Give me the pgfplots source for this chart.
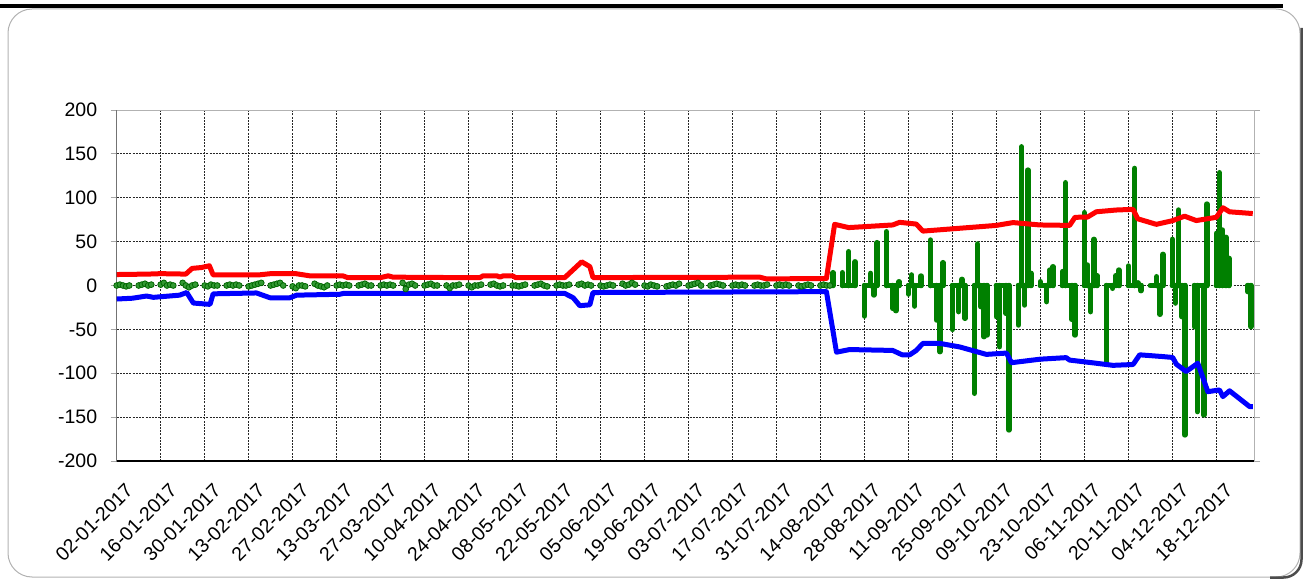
\documentclass[border=0pt]{standalone}
\usepackage{fontspec}
\setmainfont{Liberation Sans}
\usepackage{pgfplots}
\pgfplotsset{compat=1.18}
\definecolor{cred}{RGB}{255,0,0}
\definecolor{cblue}{RGB}{0,0,255}
\definecolor{cgreen}{RGB}{0,128,0}
\begin{document}
\begin{tikzpicture}[x=1pt,y=1pt]
\path[use as bounding box] (0,0) rectangle (1304,579);
\draw[gray!60, line width=1pt, rounded corners=24pt] (8,2) rectangle (1300,570);
\draw[black, line width=4pt] (0,573) -- (1283,573);
\draw[black!70, line width=2.5pt, rounded corners=18pt] (1301.5,551) -- (1301.5,1.5) -- (1270,1.5);
\begin{axis}[
  at={(116.7pt,118pt)}, anchor=south west,
  scale only axis, width=1137.3pt, height=351pt,
  xmin=0, xmax=362, ymin=-200, ymax=200,
  xtick={0,14,...,350},
  xticklabels={02-01-2017,16-01-2017,30-01-2017,13-02-2017,27-02-2017,13-03-2017,27-03-2017,10-04-2017,24-04-2017,08-05-2017,22-05-2017,05-06-2017,19-06-2017,03-07-2017,17-07-2017,31-07-2017,14-08-2017,28-08-2017,11-09-2017,25-09-2017,09-10-2017,23-10-2017,06-11-2017,20-11-2017,04-12-2017,18-12-2017},
  ytick={-200,-150,-100,-50,0,50,100,150,200},
  yticklabels={-200,-150,-100,-50,0,50,100,150,200},
  ticklabel style={font=\fontsize{19.5}{23}\selectfont, text=black},
  xticklabel style={rotate=45, anchor=north east, inner sep=1pt, xshift=-4pt, yshift=-15pt},
  yticklabel style={xshift=-10pt},
  grid=major,
  major grid style={black!85, line width=0.8pt, dash pattern=on 2pt off 1.2pt},
  axis line style={gray!60, line width=1pt},
  xtick style={draw=none},
  ytick style={gray!70, line width=1pt},
  tick align=outside, major tick length=6pt,
  clip=true,
]
% green, first part (weekdays, small values)
\addplot[cgreen, line width=2.5pt, unbounded coords=jump, mark=*, mark size=2.9pt,
  mark options={fill=cgreen!80!white, draw=cgreen!80!black, line width=0.8pt}]
  table[row sep=\\] {
d v \\
0 0 \\ 1 1 \\ 2 0 \\ 3 -1 \\ 4 0 \\ 5 nan \\
7 0 \\ 8 1 \\ 9 2 \\ 10 0 \\ 11 1 \\ 12 nan \\
14 1 \\ 15 3 \\ 16 0 \\ 17 1 \\ 18 0 \\ 19 nan \\
21 3 \\ 22 0 \\ 23 -2 \\ 24 0 \\ 25 1 \\ 26 nan \\
28 0 \\ 29 -1 \\ 30 1 \\ 31 0 \\ 32 0 \\ 33 nan \\
35 0 \\ 36 1 \\ 37 0 \\ 38 1 \\ 39 0 \\ 40 nan \\
42 -1 \\ 43 0 \\ 44 1 \\ 45 2 \\ 46 3 \\ 47 nan \\
49 0 \\ 50 1 \\ 51 2 \\ 52 3 \\ 53 0 \\ 54 nan \\
56 -1 \\ 57 -3 \\ 58 0 \\ 59 0 \\ 60 -1 \\ 61 nan \\
63 2 \\ 64 0 \\ 65 -1 \\ 66 -2 \\ 67 0 \\ 68 nan \\
70 0 \\ 71 1 \\ 72 0 \\ 73 1 \\ 74 0 \\ 75 nan \\
77 0 \\ 78 1 \\ 79 2 \\ 80 0 \\ 81 0 \\ 82 nan \\
84 0 \\ 85 1 \\ 86 0 \\ 87 1 \\ 88 0 \\ 89 nan \\
91 3 \\ 92 -4 \\ 93 1 \\ 94 2 \\ 95 0 \\ 96 nan \\
98 0 \\ 99 1 \\ 100 2 \\ 101 0 \\ 102 0 \\ 103 nan \\
105 0 \\ 106 -3 \\ 107 0 \\ 108 0 \\ 109 1 \\ 110 nan \\
112 0 \\ 113 -2 \\ 114 0 \\ 115 0 \\ 116 1 \\ 117 nan \\
119 1 \\ 120 2 \\ 121 0 \\ 122 -1 \\ 123 0 \\ 124 nan \\
126 0 \\ 127 0 \\ 128 -1 \\ 129 0 \\ 130 1 \\ 131 nan \\
133 0 \\ 134 1 \\ 135 2 \\ 136 0 \\ 137 -1 \\ 138 nan \\
140 0 \\ 141 1 \\ 142 0 \\ 143 0 \\ 144 1 \\ 145 nan \\
147 1 \\ 148 2 \\ 149 0 \\ 150 1 \\ 151 0 \\ 152 nan \\
154 0 \\ 155 -1 \\ 156 0 \\ 157 1 \\ 158 0 \\ 159 nan \\
161 2 \\ 162 0 \\ 163 1 \\ 164 3 \\ 165 1 \\ 166 nan \\
168 0 \\ 169 -1 \\ 170 1 \\ 171 0 \\ 172 -1 \\ 173 nan \\
175 -1 \\ 176 0 \\ 177 1 \\ 178 0 \\ 179 2 \\ 180 nan \\
182 0 \\ 183 1 \\ 184 2 \\ 185 3 \\ 186 0 \\ 187 nan \\
189 0 \\ 190 1 \\ 191 2 \\ 192 1 \\ 193 0 \\ 194 nan \\
196 0 \\ 197 1 \\ 198 0 \\ 199 1 \\ 200 0 \\ 201 nan \\
203 0 \\ 204 1 \\ 205 0 \\ 206 0 \\ 207 1 \\ 208 nan \\
210 0 \\ 211 1 \\ 212 0 \\ 213 1 \\ 214 0 \\ 215 nan \\
217 0 \\ 218 -1 \\ 219 0 \\ 220 1 \\ 221 0 \\ 222 nan \\
224 0 \\ 225 1 \\ 226 0 \\ 227 0 \\
};
% green, second part: zero baseline on weekdays
\addplot[cgreen, line width=5.5pt, unbounded coords=jump, line cap=round]
  table[row sep=\\] {
d v \\
231 0 \\ 235 0 \\ 236 nan \\ 238 0 \\ 242 0 \\ 243 nan \\
245 0 \\ 249 0 \\ 250 nan \\ 252 0 \\ 256 0 \\ 257 nan \\
259 0 \\ 263 0 \\ 264 nan \\ 266 0 \\ 270 0 \\ 271 nan \\
273 0 \\ 277 0 \\ 278 nan \\ 280 0 \\ 284 0 \\ 285 nan \\
287 0 \\ 291 0 \\ 292 nan \\ 294 0 \\ 298 0 \\ 299 nan \\
301 0 \\ 305 0 \\ 306 nan \\ 308 0 \\ 312 0 \\ 313 nan \\
315 0 \\ 319 0 \\ 320 nan \\ 322 0 \\ 326 0 \\ 327 nan \\
329 0 \\ 333 0 \\ 334 nan \\ 336 0 \\ 340 0 \\ 341 nan \\
343 0 \\ 347 0 \\ 348 nan \\ 350 0 \\ 354 0 \\ 355 nan \\
360 0 \\ 361 0 \\
};
% green, second part: daily spikes
\addplot[cgreen, ycomb, line width=5.5pt, line cap=round]
  table[row sep=\\] {
d v \\
228 14.6 \\ 231 14.6 \\ 233 38.5 \\ 235 27 \\ 238 -34.8 \\ 240 13.8 \\ 241 -10.8 \\ 242 48.8 \\
245 61.3 \\ 247 -26 \\ 248 -28.7 \\ 249 4.3 \\ 252 -9.7 \\ 253 12 \\ 254 -23.4 \\ 256 10.8 \\
259 51.8 \\ 261 -39.3 \\ 262 -75.4 \\ 263 26 \\ 266 -50 \\ 268 -29.8 \\ 269 7 \\ 270 -37.4 \\
273 -122.8 \\ 274 47.3 \\ 275 -24 \\ 276 -58.3 \\ 277 -56.4 \\ 280 -35.5 \\ 281 -69.7 \\ 283 -31.7 \\ 284 -164.6 \\
287 -45 \\ 288 158 \\ 289 -22.2 \\ 290 131.5 \\ 291 13.9 \\ 294 4.3 \\ 296 -18.4 \\ 297 17.6 \\ 298 21.4 \\
301 15.8 \\ 302 117.1 \\ 304 -38.6 \\ 305 -56.4 \\ 308 83 \\ 309 23.3 \\ 310 -29.8 \\ 311 52.6 \\ 312 11.2 \\
315 -87.9 \\ 317 -3.2 \\ 318 11.2 \\ 319 17.6 \\ 322 22.2 \\ 324 133.4 \\ 325 3 \\ 326 -5.9 \\
331 10 \\ 332 -32.8 \\ 333 35.5 \\ 336 52.6 \\ 337 -20 \\ 338 86 \\ 339 -35.5 \\ 340 -170.3 \\
343 -46.9 \\ 344 -143.7 \\ 346 -147.5 \\ 347 92.8 \\ 350 59.4 \\ 351 128.5 \\ 352 63.2 \\ 353 54.9 \\ 354 30.9 \\
360 -7 \\ 361 -46.9 \\
};
% red upper line
\addplot[cred, line width=5pt, line join=round] table[row sep=\\] {
d v \\
0 12.5 \\ 10 13 \\ 14 13.5 \\ 22 13 \\ 24 19.5 \\ 27 20.5 \\ 29.5 22.5 \\ 30.7 12 \\ 45 12 \\
49 13.5 \\ 57 13.5 \\ 61.5 11 \\ 72 11 \\ 73.5 9 \\ 84 9 \\ 86.4 11 \\ 88 9.5 \\ 109 9 \\
115.6 9 \\ 116.6 11 \\ 121 11 \\ 122 9.5 \\ 123 11 \\ 126 11 \\ 127 9 \\ 142.6 9 \\
145.3 18 \\ 148 27 \\ 150.6 21.5 \\ 151.6 9 \\ 204.7 9.5 \\ 206.8 7.5 \\ 225.9 8 \\
228.5 69.7 \\ 233 66 \\ 247 69 \\ 249.2 72 \\ 254.5 70 \\ 256.6 62 \\ 274.7 67 \\ 280 68.5 \\
285.3 71.7 \\ 293.8 69 \\ 303.3 68.5 \\ 305 77.7 \\ 309 78 \\ 311.8 84 \\ 318 86 \\ 323.5 86.8 \\
325 76 \\ 330.9 69.7 \\ 336 73.8 \\ 339.9 79 \\ 343.6 74 \\ 350 77.7 \\ 352.1 88.6 \\ 354.2 84 \\ 361.6 82 \\
};
% blue lower line
\addplot[cblue, line width=5pt, line join=round] table[row sep=\\] {
d v \\
0 -15.4 \\ 5 -14.5 \\ 9.5 -12 \\ 11.7 -13.5 \\ 20 -11 \\ 22.3 -8 \\ 24.4 -20 \\ 29.7 -21.5 \\
30.7 -9.5 \\ 44.5 -8.5 \\ 48.8 -14 \\ 55.1 -14 \\ 57.3 -11 \\ 71 -10 \\ 72.2 -9 \\ 142.6 -9 \\
145.3 -14 \\ 147.4 -23 \\ 150.6 -22 \\ 151.6 -8 \\ 225.9 -7 \\
229.1 -76 \\ 233.3 -73 \\ 247 -74 \\ 250 -79 \\ 252.4 -79 \\ 254.5 -74 \\ 256.6 -66 \\ 262 -66 \\
268.3 -70 \\ 276.8 -78.5 \\ 283.2 -77 \\ 284.8 -88 \\ 293.8 -84 \\ 302.2 -82.2 \\ 303.3 -85 \\
311.8 -88.6 \\ 317.1 -91 \\ 323.5 -90 \\ 325.6 -79 \\ 333 -81 \\ 336.1 -82 \\ 337.3 -89.8 \\
340.4 -98 \\ 344.1 -88.6 \\ 347.3 -121 \\ 351 -119 \\ 352.1 -126.6 \\ 354.2 -120 \\ 360.6 -138 \\ 361.6 -138 \\
};
\draw[black, line width=1.2pt] (rel axis cs:0,1) -- (rel axis cs:0,0) -- (rel axis cs:1,0);
\end{axis}
\end{tikzpicture}
\end{document}
